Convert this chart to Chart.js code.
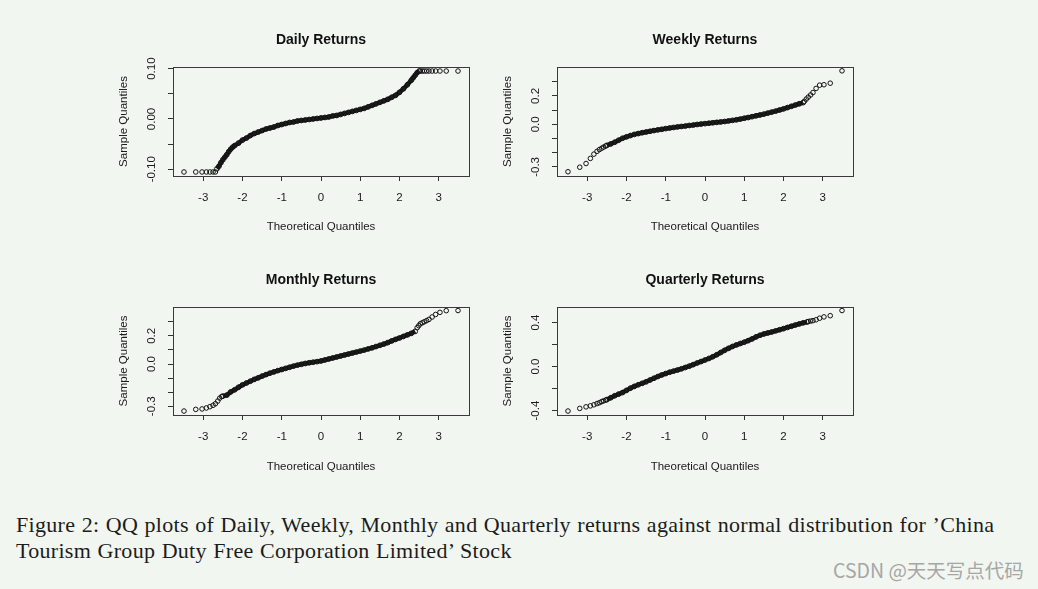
<!DOCTYPE html>
<html>
<head>
<meta charset="utf-8">
<title>QQ plots</title>
<script src="https://cdn.jsdelivr.net/npm/chart.js@4.4.1/dist/chart.umd.min.js"></script>
<style>
    html, body { margin: 0; padding: 0; background: #f1f6f0; }
    body { width: 1038px; height: 589px; position: relative; overflow: hidden; }
    canvas { position: absolute; }
    #caption {
        position: absolute; left: 16px; top: 512px;
        font-family: "Liberation Serif", serif; font-size: 22px; line-height: 26px;
        letter-spacing: 0.3px; word-spacing: 0.6px;
        color: #1c1c1c; white-space: nowrap;
    }
    #mark {
        position: absolute; left: 833px; top: 557px;
        font-family: "Noto Sans CJK SC", sans-serif; font-size: 19.5px; line-height: 26px;
        color: #a6a6a6; white-space: nowrap;
    }
</style>
</head>
<body>
<canvas id="dailyChart" width="400" height="240" style="left:100px;top:20px"></canvas>
<canvas id="weeklyChart" width="400" height="240" style="left:484px;top:20px"></canvas>
<canvas id="monthlyChart" width="400" height="240" style="left:100px;top:260px"></canvas>
<canvas id="quarterlyChart" width="400" height="240" style="left:484px;top:260px"></canvas>

<div id="caption">Figure 2: QQ plots of Daily, Weekly, Monthly and Quarterly returns against normal distribution for ’China<br>Tourism Group Duty Free Corporation Limited’ Stock</div>
<div id="mark">CSDN @天天写点代码</div>

<script>
// Theoretical quantile axis, shared by all four panels
const xTicks = [-3, -2, -1, 0, 1, 2, 3];
const xRange = [-3.77, 3.77];

// Daily returns
const dailyDenseX = [-2.65, -2.60, -2.55, -2.50, -2.45, -2.40, -2.35, -2.30, -2.25, -2.20, -2.10, -2.00, -1.90, -1.80, -1.70, -1.60, -1.50, -1.40, -1.30, -1.20, -1.10, -1.00, -0.90, -0.80, -0.70, -0.60, -0.50, -0.40, -0.30, -0.20, -0.10, 0.00, 0.10, 0.20, 0.30, 0.40, 0.50, 0.60, 0.70, 0.80, 0.90, 1.00, 1.10, 1.20, 1.30, 1.40, 1.50, 1.60, 1.70, 1.80, 1.90, 2.00, 2.10, 2.20, 2.30, 2.35, 2.40, 2.45, 2.50];
const dailyDenseY = [-0.099, -0.094, -0.087, -0.081, -0.076, -0.071, -0.065, -0.060, -0.056, -0.053, -0.048, -0.042, -0.038, -0.033, -0.029, -0.026, -0.023, -0.020, -0.018, -0.016, -0.013, -0.011, -0.009, -0.007, -0.006, -0.004, -0.003, -0.002, -0.001, 0.000, 0.001, 0.002, 0.003, 0.004, 0.006, 0.007, 0.009, 0.011, 0.013, 0.015, 0.017, 0.019, 0.021, 0.024, 0.027, 0.030, 0.033, 0.036, 0.039, 0.043, 0.047, 0.053, 0.060, 0.068, 0.077, 0.082, 0.087, 0.092, 0.0953];
const dailyTailX = [-3.49, -3.19, -3.03, -2.92, -2.83, -2.75, -2.69, 2.53, 2.58, 2.63, 2.69, 2.75, 2.83, 2.92, 3.03, 3.19, 3.49];
const dailyTailY = [-0.1054, -0.1054, -0.1054, -0.1054, -0.1054, -0.1054, -0.1054, 0.0953, 0.0953, 0.0953, 0.0953, 0.0953, 0.0953, 0.0953, 0.0953, 0.0953, 0.0953];
const dailyYTicks = [-0.10, -0.05, 0.00, 0.05, 0.10];
const dailyYLabels = ['-0.10', '', '0.00', '', '0.10'];

// Weekly returns
const weeklyDenseX = [-2.50, -2.40, -2.30, -2.20, -2.10, -2.00, -1.90, -1.80, -1.70, -1.60, -1.50, -1.40, -1.30, -1.20, -1.10, -1.00, -0.90, -0.80, -0.70, -0.60, -0.50, -0.40, -0.30, -0.20, -0.10, 0.00, 0.10, 0.20, 0.30, 0.40, 0.50, 0.60, 0.70, 0.80, 0.90, 1.00, 1.10, 1.20, 1.30, 1.40, 1.50, 1.60, 1.70, 1.80, 1.90, 2.00, 2.10, 2.20, 2.30, 2.40, 2.50];
const weeklyDenseY = [-0.148, -0.138, -0.126, -0.112, -0.098, -0.088, -0.079, -0.071, -0.065, -0.059, -0.054, -0.049, -0.044, -0.039, -0.035, -0.030, -0.026, -0.022, -0.018, -0.015, -0.012, -0.008, -0.005, -0.001, 0.002, 0.005, 0.008, 0.011, 0.014, 0.017, 0.020, 0.024, 0.028, 0.032, 0.037, 0.043, 0.048, 0.054, 0.060, 0.066, 0.072, 0.079, 0.086, 0.093, 0.101, 0.109, 0.118, 0.127, 0.136, 0.145, 0.153];
const weeklyTailX = [-3.49, -3.19, -3.03, -2.92, -2.83, -2.75, -2.69, -2.63, -2.58, -2.53, 2.53, 2.58, 2.63, 2.69, 2.75, 2.83, 2.92, 3.03, 3.19, 3.49];
const weeklyTailY = [-0.334, -0.302, -0.276, -0.240, -0.210, -0.190, -0.178, -0.168, -0.160, -0.153, 0.162, 0.178, 0.192, 0.207, 0.224, 0.253, 0.276, 0.279, 0.290, 0.377];
const weeklyYTicks = [-0.3, -0.2, -0.1, 0.0, 0.1, 0.2, 0.3];
const weeklyYLabels = ['-0.3', '', '', '0.0', '', '0.2', ''];

// Monthly returns
const monthlyDenseX = [-2.50, -2.40, -2.30, -2.20, -2.10, -2.00, -1.90, -1.80, -1.70, -1.60, -1.50, -1.40, -1.30, -1.20, -1.10, -1.00, -0.90, -0.80, -0.70, -0.60, -0.50, -0.40, -0.30, -0.20, -0.10, 0.00, 0.10, 0.20, 0.30, 0.40, 0.50, 0.60, 0.70, 0.80, 0.90, 1.00, 1.10, 1.20, 1.30, 1.40, 1.50, 1.60, 1.70, 1.80, 1.90, 2.00, 2.10, 2.20, 2.30, 2.40];
const monthlyDenseY = [-0.228, -0.221, -0.198, -0.183, -0.165, -0.148, -0.135, -0.122, -0.109, -0.098, -0.086, -0.075, -0.065, -0.056, -0.047, -0.039, -0.031, -0.023, -0.015, -0.008, -0.002, 0.004, 0.009, 0.013, 0.017, 0.022, 0.029, 0.036, 0.043, 0.050, 0.057, 0.064, 0.071, 0.078, 0.085, 0.092, 0.099, 0.107, 0.115, 0.124, 0.133, 0.142, 0.152, 0.164, 0.175, 0.185, 0.196, 0.207, 0.218, 0.232];
const monthlyTailX = [-3.49, -3.19, -3.03, -2.92, -2.83, -2.75, -2.69, -2.63, -2.58, -2.53, 2.45, 2.49, 2.53, 2.58, 2.63, 2.69, 2.75, 2.83, 2.92, 3.03, 3.19, 3.49];
const monthlyTailY = [-0.334, -0.322, -0.319, -0.312, -0.303, -0.293, -0.282, -0.263, -0.242, -0.231, 0.258, 0.272, 0.286, 0.293, 0.300, 0.308, 0.317, 0.334, 0.352, 0.367, 0.379, 0.380];
const monthlyYTicks = [-0.3, -0.2, -0.1, 0.0, 0.1, 0.2, 0.3];
const monthlyYLabels = ['-0.3', '', '', '0.0', '', '0.2', ''];

// Quarterly returns
const quarterlyDenseX = [-2.50, -2.40, -2.30, -2.20, -2.10, -2.00, -1.90, -1.80, -1.70, -1.60, -1.50, -1.40, -1.30, -1.20, -1.10, -1.00, -0.90, -0.80, -0.70, -0.60, -0.50, -0.40, -0.30, -0.20, -0.10, 0.00, 0.10, 0.20, 0.30, 0.40, 0.50, 0.60, 0.70, 0.80, 0.90, 1.00, 1.10, 1.20, 1.30, 1.40, 1.50, 1.60, 1.70, 1.80, 1.90, 2.00, 2.10, 2.20, 2.30, 2.40, 2.50, 2.60];
const quarterlyDenseY = [-0.300, -0.283, -0.265, -0.250, -0.236, -0.216, -0.196, -0.180, -0.165, -0.152, -0.138, -0.122, -0.106, -0.090, -0.076, -0.063, -0.051, -0.041, -0.031, -0.020, -0.008, 0.004, 0.018, 0.033, 0.046, 0.060, 0.074, 0.090, 0.108, 0.128, 0.148, 0.166, 0.183, 0.197, 0.210, 0.222, 0.236, 0.252, 0.270, 0.285, 0.297, 0.306, 0.315, 0.325, 0.335, 0.345, 0.356, 0.367, 0.378, 0.388, 0.398, 0.406];
const quarterlyTailX = [-3.49, -3.19, -3.03, -2.92, -2.83, -2.75, -2.69, -2.63, -2.58, -2.53, 2.63, 2.69, 2.75, 2.83, 2.92, 3.03, 3.19, 3.49];
const quarterlyTailY = [-0.404, -0.380, -0.366, -0.357, -0.347, -0.336, -0.328, -0.318, -0.311, -0.305, 0.410, 0.414, 0.418, 0.426, 0.440, 0.452, 0.463, 0.510];
const quarterlyYTicks = [-0.4, -0.2, 0.0, 0.2, 0.4];
const quarterlyYLabels = ['-0.4', '', '0.0', '', '0.4'];

const INK = '#1a1a1a';
const SANS = '"Liberation Sans", Arial, sans-serif';

/**
 * Pair up x and y arrays into Chart.js scatter points
 */
function toPoints(xs, ys) {
    return xs.map((x, i) => ({ x: x, y: ys[i] }));
}

/**
 * Draws the R-style frame round the plot region
 */
const plotBoxPlugin = {
    id: 'plotBox',
    afterDraw(chart) {
        const { ctx, chartArea: a } = chart;
        ctx.save();
        ctx.strokeStyle = '#3a3a3a';
        ctx.lineWidth = 1;
        ctx.strokeRect(Math.round(a.left) + 0.5, Math.round(a.top) + 0.5,
            Math.round(a.right - a.left), Math.round(a.bottom - a.top));
        ctx.restore();
    }
};

/**
 * Shared axis styling (ticks outside the box, no grid)
 */
function getAxisGrid() {
    return { drawOnChartArea: false, drawTicks: true, tickLength: 5, color: '#333', tickColor: '#333' };
}

/**
 * Build one QQ panel
 * @param {string} canvasId - canvas element id
 * @param {string} title - panel title
 * @param {Array} dense - points of the dense body
 * @param {Array} tails - sparse tail points
 * @param {Array} yRange - [min, max] of the y axis
 * @param {Array} yTicks - y tick values
 * @param {Array} yLabels - y tick labels ('' hides one)
 * @param {number} labelPad - y tick label padding
 * @param {number} xAxisHeight - height kept for the x axis
 */
function createQQChart(canvasId, title, dense, tails, yRange, yTicks, yLabels, labelPad, xAxisHeight) {
    const canvas = document.getElementById(canvasId);
    if (!canvas) {
        console.warn(`Canvas element not found: ${canvasId}`);
        return null;
    }

    return new Chart(canvas.getContext('2d'), {
        type: 'scatter',
        data: {
            datasets: [
                {
                    data: dense,
                    showLine: true,
                    borderColor: INK,
                    borderWidth: 4.5,
                    pointRadius: 2.4,
                    pointBorderWidth: 1,
                    pointBorderColor: '#111',
                    pointBackgroundColor: 'rgba(0,0,0,0)'
                },
                {
                    data: tails,
                    showLine: false,
                    pointRadius: 2.3,
                    pointBorderWidth: 1,
                    pointBorderColor: '#111',
                    pointBackgroundColor: 'rgba(0,0,0,0)'
                }
            ]
        },
        options: {
            responsive: false,
            animation: false,
            layout: { padding: { left: 0, right: 31, top: 0, bottom: 0 } },
            plugins: {
                legend: { display: false },
                tooltip: { enabled: false },
                title: {
                    display: true,
                    text: title,
                    fullSize: false,
                    color: '#111',
                    font: { family: SANS, size: 14, weight: 'bold' },
                    padding: { top: 11.6, bottom: 18.6 }
                }
            },
            scales: {
                x: {
                    type: 'linear',
                    min: xRange[0],
                    max: xRange[1],
                    afterBuildTicks: (s) => { s.ticks = xTicks.map(v => ({ value: v })); },
                    afterFit: (s) => { s.height = xAxisHeight; },
                    border: { display: false },
                    grid: getAxisGrid(),
                    ticks: {
                        autoSkip: false,
                        maxRotation: 0,
                        padding: 10.4,
                        color: INK,
                        font: { family: SANS, size: 11.5 }
                    },
                    title: {
                        display: true,
                        text: 'Theoretical Quantiles',
                        color: INK,
                        font: { family: SANS, size: 11.5 },
                        padding: { top: 0, bottom: 26.4 }
                    }
                },
                y: {
                    type: 'linear',
                    min: yRange[0],
                    max: yRange[1],
                    afterBuildTicks: (s) => { s.ticks = yTicks.map(v => ({ value: v })); },
                    afterFit: (s) => { s.width = 73; },
                    border: { display: false },
                    grid: getAxisGrid(),
                    ticks: {
                        autoSkip: false,
                        minRotation: 90,
                        maxRotation: 90,
                        crossAlign: 'center',
                        padding: labelPad,
                        color: INK,
                        font: { family: SANS, size: 11.5 },
                        callback: (value) => {
                            const i = yTicks.findIndex(t => Math.abs(t - value) < 1e-9);
                            return i >= 0 ? yLabels[i] : '';
                        }
                    },
                    title: {
                        display: true,
                        text: 'Sample Quantiles',
                        color: INK,
                        font: { family: SANS, size: 11.5 },
                        padding: { top: 17.1, bottom: 0 }
                    }
                }
            }
        },
        plugins: [plotBoxPlugin]
    });
}

createQQChart('dailyChart', 'Daily Returns',
    toPoints(dailyDenseX, dailyDenseY), toPoints(dailyTailX, dailyTailY),
    [-0.1134, 0.1033], dailyYTicks, dailyYLabels, 2.9, 84);

createQQChart('weeklyChart', 'Weekly Returns',
    toPoints(weeklyDenseX, weeklyDenseY), toPoints(weeklyTailX, weeklyTailY),
    [-0.364, 0.404], weeklyYTicks, weeklyYLabels, 6.1, 84);

createQQChart('monthlyChart', 'Monthly Returns',
    toPoints(monthlyDenseX, monthlyDenseY), toPoints(monthlyTailX, monthlyTailY),
    [-0.362, 0.405], monthlyYTicks, monthlyYLabels, 6.1, 85);

createQQChart('quarterlyChart', 'Quarterly Returns',
    toPoints(quarterlyDenseX, quarterlyDenseY), toPoints(quarterlyTailX, quarterlyTailY),
    [-0.440, 0.542], quarterlyYTicks, quarterlyYLabels, 6.1, 85);
</script>
</body>
</html>
